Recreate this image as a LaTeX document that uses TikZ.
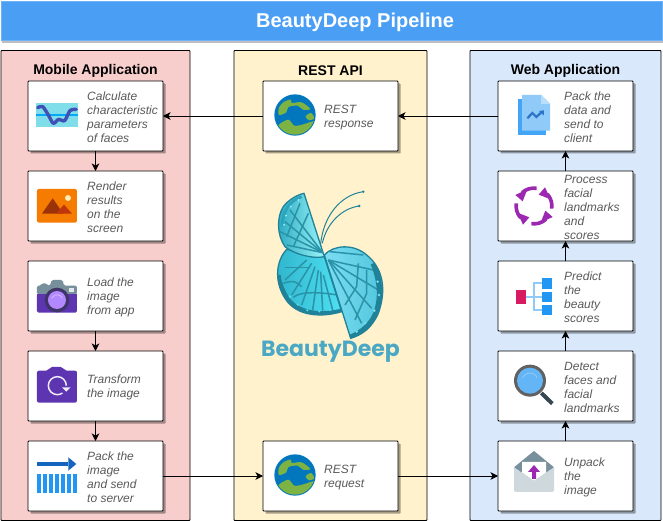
\documentclass[tikz,border=0pt]{standalone}
\usepackage{fontspec}
\setmainfont{Liberation Sans}
\newfontfamily\logofont{Poppins}
\usetikzlibrary{positioning,shadows,arrows.meta}
\definecolor{panelred}{HTML}{F8CECC}
\definecolor{panelyellow}{HTML}{FFF2CC}
\definecolor{panelblue}{HTML}{DAE8FC}
\definecolor{titleblue}{HTML}{4A9FF5}
\definecolor{textgray}{HTML}{5A5A5A}
\definecolor{wingdark}{HTML}{1F8299}
\definecolor{wingvein}{HTML}{2A93A8}
\definecolor{wingteal}{HTML}{2FB4CC}
\definecolor{wingcyan}{HTML}{4FE0F2}
\definecolor{wingsky}{HTML}{7CDDF2}
\definecolor{winglight}{HTML}{9BF5F8}
\definecolor{logoblue}{HTML}{4BA8C4}
\definecolor{globeblue}{HTML}{0277BD}
\definecolor{globegreen}{HTML}{7CB342}
\definecolor{chartbg}{HTML}{80DEEA}
\definecolor{chartline}{HTML}{03A9F4}
\definecolor{wave}{HTML}{3F51B5}
\definecolor{orangeicon}{HTML}{F57C00}
\definecolor{mountdark}{HTML}{9C3208}
\definecolor{mountlight}{HTML}{BF360C}
\definecolor{sunicon}{HTML}{FFECB3}
\definecolor{camgray}{HTML}{78909C}
\definecolor{campurple}{HTML}{5E35B1}
\definecolor{camdark}{HTML}{3F3467}
\definecolor{camlens}{HTML}{B388FF}
\definecolor{arrowblue}{HTML}{1565C0}
\definecolor{barblue}{HTML}{2196F3}
\definecolor{docdark}{HTML}{42A5F5}
\definecolor{docmid}{HTML}{90CAF9}
\definecolor{doclight}{HTML}{BBDEFB}
\definecolor{cyclepurple}{HTML}{9C27B0}
\definecolor{pinkicon}{HTML}{D81B60}
\definecolor{handledark}{HTML}{37474F}
\definecolor{lensgray}{HTML}{616161}
\definecolor{lensblue}{HTML}{64B5F6}
\definecolor{envlight}{HTML}{CFD8DC}
\tikzset{
  panelbox/.style={draw=black, line width=.8pt, rounded corners=.7pt, inner sep=0pt, outer sep=0pt},
  paneltitle/.style={font=\bfseries\fontsize{14}{16}\selectfont, inner sep=0pt},
  stepbox/.style={draw=black, line width=.8pt, fill=white, rounded corners=.7pt, minimum width=135pt, minimum height=70pt,
    inner sep=0pt, outer sep=0pt, general shadow={fill=black, opacity=.35, shadow xshift=2.5pt, shadow yshift=-2.5pt}},
  steptext/.style={font=\itshape\fontsize{12}{14}\selectfont, text=textgray, align=left, anchor=west, inner sep=0pt, yshift=-1.7pt},
  flow/.style={-{Stealth[length=7.5pt,width=7.5pt,inset=2pt]}, line width=.8pt},
  zoomed/.style={shift={#1}, x=.3333pt, y=-.3333pt},
  vein/.style={draw=wingvein, line width=1.5pt},
  globe/.pic={
    \begin{scope}[x=.3333pt, y=-.3333pt]
      \fill[globeblue] (0,0) circle[radius=62];
      \begin{scope}
        \clip (0,0) circle[radius=59];
        \fill[globegreen] plot[smooth cycle] coordinates {(-48,-22) (-32,-40) (-12,-46) (-10,-36) (20,-38) (46,-18) (24,-16) (8,-28) (-20,-24) (-26,-8) (-48,0)};
        \fill[globegreen] plot[smooth cycle] coordinates {(-50,32) (-20,14) (-2,32) (25,28) (60,18) (58,38) (20,60) (-26,56)};
        \fill[globegreen] plot[smooth cycle] coordinates {(32,4) (48,-6) (58,10) (42,16)};
      \end{scope}
    \end{scope}
  }
}
\begin{document}
\begin{tikzpicture}[x=1pt, y=-1pt, node distance=20pt]
\useasboundingbox (0,0) rectangle (663,521);
% header and the three columns
\node[draw=titleblue!80!white, line width=.5pt, fill=titleblue, minimum width=661pt, minimum height=39pt,
  inner sep=0pt, general shadow={fill=black, opacity=.25, shadow xshift=1pt, shadow yshift=-3pt}] (header) at (331.5,20.5) {};
\node[text=white, font=\bfseries\fontsize{20}{22}\selectfont, inner sep=0pt] (headertext) at (355,22) {BeautyDeep Pipeline};
\node[panelbox, fill=panelred, minimum width=189pt, minimum height=470pt] (mobile) at (95.5,285.5) {};
\node[panelbox, fill=panelyellow, minimum width=193pt, minimum height=470pt] (rest) at (330.5,285.5) {};
\node[panelbox, fill=panelblue, minimum width=191pt, minimum height=470pt] (web) at (565.5,285.5) {};
\node[paneltitle] (mobiletitle) at (95.5,70.5) {Mobile Application};
\node[paneltitle] (resttitle) at (330.5,70.5) {REST API};
\node[paneltitle] (webtitle) at (565.5,70.5) {Web Application};
% mobile column
\node[stepbox] (m1) at (95.5,116) {};
\node[stepbox, below=of m1] (m2) {};
\node[stepbox, below=of m2] (m3) {};
\node[stepbox, below=of m3] (m4) {};
\node[stepbox, below=of m4] (m5) {};
\node[steptext] (m1text) at ([xshift=59pt]m1.west) {Calculate\\characteristic\\parameters\\of faces};
\node[steptext] (m2text) at ([xshift=59pt]m2.west) {Render\\results\\on the\\screen};
\node[steptext] (m3text) at ([xshift=59pt]m3.west) {Load the\\image\\from app};
\node[steptext] (m4text) at ([xshift=59pt]m4.west) {Transform\\the image};
\node[steptext] (m5text) at ([xshift=59pt]m5.west) {Pack the\\image\\and send\\to server};
% rest column
\node[stepbox] (r1) at (330.5,116) {};
\node[stepbox] (r2) at (330.5,476) {};
\node[steptext] (r1text) at ([xshift=61pt]r1.west) {REST\\response};
\node[steptext] (r2text) at ([xshift=61pt]r2.west) {REST\\request};
% web column
\node[stepbox] (w1) at (565.5,116) {};
\node[stepbox, below=of w1] (w2) {};
\node[stepbox, below=of w2] (w3) {};
\node[stepbox, below=of w3] (w4) {};
\node[stepbox, below=of w4] (w5) {};
\node[steptext] (w1text) at ([xshift=66pt]w1.west) {Pack the\\data and\\send to\\client};
\node[steptext] (w2text) at ([xshift=66pt]w2.west) {Process\\facial\\landmarks\\and\\scores};
\node[steptext] (w3text) at ([xshift=66pt]w3.west) {Predict\\the\\beauty\\scores};
\node[steptext] (w4text) at ([xshift=66pt]w4.west) {Detect\\faces and\\facial\\landmarks};
\node[steptext] (w5text) at ([xshift=66pt]w5.west) {Unpack\\the\\image};
% connectors
\draw[flow] (w1) -- (r1);
\draw[flow] (r1) -- (m1);
\draw[flow] (m1) -- (m2);
\draw[flow] (m3) -- (m4);
\draw[flow] (m4) -- (m5);
\draw[flow] (m5) -- (r2);
\draw[flow] (r2) -- (w5);
\draw[flow] (w5) -- (w4);
\draw[flow] (w4) -- (w3);
\draw[flow] (w3) -- (w2);
\draw[flow] (w2) -- (w1);
% mobile icons
\begin{scope}[zoomed={(0,0)}]
  \fill[chartbg] (108,309) rectangle (234,381);
  \fill[chartline] (108,341) rectangle (234,347);
  \draw[line width=3.4pt, color=wave, line cap=round, line join=round] plot[smooth] coordinates {(113,323) (128,320) (145,345) (160,370) (176,358) (194,362) (210,332) (229,328)};
  \fill[rounded corners=2pt, color=orangeicon] (111,567) rectangle (231,668);
  \fill[color=mountdark] (126,641) -- (158,595) -- (190,641) -- cycle;
  \fill[color=mountlight] (168,641) -- (192,614) -- (216,641) -- cycle;
  \fill[color=sunicon] (204,594) circle[radius=9];
\end{scope}
\begin{scope}[zoomed={(0,255)}]
  \fill[color=camgray, rounded corners=1.5pt] (111,118) -- (111,92) -- (123,92) -- (125,85) -- (140,85) -- (143,92) -- (150,92) -- (155,75) -- (188,75) -- (192,92) -- (231,92) -- (231,118) -- cycle;
  \fill[color=campurple, rounded corners=1.5pt] (111,118) rectangle (231,173);
  \fill[color=campurple] (111,118) rectangle (231,130);
  \fill[color=camdark] (171,135) circle[radius=37];
  \fill[color=camlens] (171,135) circle[radius=27];
  \draw[color=white!50!camlens, line width=.7pt] (155,130) arc[start angle=-160, end angle=-20, radius=17];
  \fill[color=white!80!camgray] (206,98) rectangle (222,110);
  \fill[color=campurple, rounded corners=2pt] (111,443) -- (111,347) -- (145,347) -- (150,336) -- (188,336) -- (194,347) -- (231,347) -- (231,443) -- cycle;
  \draw[color=white!90!campurple, line width=1.5pt] (199,392) arc[start angle=0, end angle=-305, radius=27];
  \fill[color=white!90!campurple] (186,397) -- (212,397) -- (199,410) -- cycle;
  \fill[color=arrowblue] (111,621) rectangle (205,633);
  \fill[color=arrowblue] (205,607) -- (229,627) -- (205,647) -- cycle;
  \foreach \i in {0,...,6} {
    \fill[color=barblue] (111+18*\i,657) rectangle (123+18*\i,714);
  }
\end{scope}
% rest icons
\pic at (295,115) {globe};
\pic at (295,475) {globe};
% web icons
\begin{scope}[zoomed={(465,45)}]
  \fill[color=docdark] (159,163) rectangle (243,269);
  \fill[color=docmid] (171,150) -- (228,150) -- (255,177) -- (255,257) -- (171,257) -- cycle;
  \fill[color=doclight] (228,150) -- (255,177) -- (228,177) -- cycle;
  \draw[color=arrowblue!90!white, line width=2.2pt] (187,220) -- (202,204) -- (214,216) -- (230,201);
  \fill[color=arrowblue!90!white] (237,196) -- (236,212) -- (222,198) -- cycle;
  \foreach \a in {0,90,180,270} {
    \begin{scope}[shift={(207,483)}, rotate=\a]
      \draw[color=cyclepurple, line width=3.6pt] (53,8) arc[start angle=9, end angle=-42, radius=53];
      \fill[color=cyclepurple] (33,-56) -- (14,-34) -- (50,-20) -- cycle;
    \end{scope}
  }
\end{scope}
\begin{scope}[zoomed={(465,280)}]
  \draw[color=docmid, line width=1.7pt] (183,50) -- (231,50);
  \draw[color=docmid, line width=1.7pt] (231,90) -- (208,90) -- (208,9) -- (231,9);
  \fill[color=pinkicon] (153,30) rectangle (183,72);
  \fill[color=barblue] (231,-6) rectangle (261,27);
  \fill[color=barblue] (231,36) rectangle (261,65);
  \fill[color=barblue] (231,75) rectangle (261,105);
  % magnifier
  \draw[color=handledark, line width=4pt] (229,339) -- (262,371);
  \fill[color=lensgray] (195,302) circle[radius=48];
  \fill[color=lensblue] (195,302) circle[radius=39];
  \draw[color=docmid, line width=.8pt] (173,293) arc[start angle=-155, end angle=-25, radius=24];
  % envelope
  \fill[color=envlight, rounded corners=2pt] (207,560) -- (147,562) -- (147,636) -- (267,636) -- (267,562) -- cycle;
  \fill[color=camgray] (207,513) -- (267,562) -- (207,603) -- (147,562) -- cycle;
  \fill[color=white] (171,546) -- (243,546) -- (243,578) -- (207,603) -- (171,578) -- cycle;
  \fill[color=envlight] (147,562) -- (207,603) -- (267,562) -- (267,570) -- (207,610) -- (147,570) -- cycle;
  \fill[color=cyclepurple] (207,555) -- (225,576) -- (213,576) -- (213,597) -- (201,597) -- (201,576) -- (189,576) -- cycle;
\end{scope}
% logo
\begin{scope}[zoomed={(230,180)}]
  \draw[color=wingdark, line width=1pt] (272,192) .. controls (280,110) and (330,45) .. (400,35);
  \draw[color=wingdark, line width=1pt] (277,190) .. controls (290,130) and (335,85) .. (388,78);
  \fill[color=wingdark] (400,35) circle[radius=4];
  \fill[color=wingdark] (388,78) circle[radius=4];
  % lower left wing
  \path[left color=wingteal, right color=wingcyan, draw=wingdark, line width=1.3pt] (283,230) -- (335,395) .. controls (280,412) and (200,412) .. (165,355) .. controls (130,300) and (140,240) .. (170,208) -- cycle;
  \begin{scope}
    \clip (283,230) -- (335,395) .. controls (280,412) and (200,412) .. (165,355) .. controls (130,300) and (140,240) .. (170,208) -- cycle;
    \foreach \sx/\sy/\ex/\ey in {230/240/165/300,245/250/185/345,255/260/215/375,265/270/248/390,272/275/278/392,280/285/308/390} {
      \draw[vein] (\sx,\sy) -- (\ex,\ey);
    }
    \draw[vein] (165,262) -- (240,262);
    \draw[vein] (160,310) .. controls (190,300) and (200,305) .. (215,320);
    \draw[vein] (190,352) .. controls (210,335) and (260,335) .. (322,345);
    \draw[color=wingdark, line width=4pt] (335,392) .. controls (280,405) and (205,405) .. (170,352) .. controls (158,330) and (148,310) .. (146,285);
    \foreach \dx/\dy in {232/391,268/394,300/390,203/374,180/350} {
      \fill[wingcyan] (\dx,\dy) circle[radius=3.5];
    }
  \end{scope}
  % right wing
  \path[left color=wingsky, right color=wingteal!60!wingsky, draw=wingdark, line width=1.3pt] (283,225) .. controls (310,195) and (370,190) .. (410,225) .. controls (460,265) and (470,330) .. (445,400) .. controls (425,445) and (395,465) .. (362,475) -- cycle;
  \begin{scope}
    \clip (283,225) .. controls (310,195) and (370,190) .. (410,225) .. controls (460,265) and (470,330) .. (445,400) .. controls (425,445) and (395,465) .. (362,475) -- cycle;
    \foreach \ex/\ey in {430/270,445/330,425/385,395/430} {
      \draw[vein] (295,240) -- (\ex,\ey);
    }
    \draw[vein] (300,215) -- (400,225);
    \draw[vein] (385,250) -- (380,320) -- (345,375);
    \draw[vein] (410,270) -- (410,340) -- (375,420);
    \draw[color=wingdark, line width=5.5pt] (362,472) .. controls (395,458) and (425,435) .. (440,395) .. controls (455,350) and (450,300) .. (430,250);
    \foreach \dx/\dy in {405/430,433/392,447/345,443/305,380/455} {
      \fill[wingsky] (\dx,\dy) circle[radius=4];
    }
  \end{scope}
  % upper left wing
  \path[left color=wingteal!80!wingdark, right color=winglight, draw=wingdark, line width=1.3pt] (222,40) -- (283,230) .. controls (250,238) and (190,222) .. (165,200) .. controls (140,165) and (140,110) .. (160,80) .. controls (175,60) and (200,45) .. cycle;
  \begin{scope}
    \clip (222,40) -- (283,230) .. controls (250,238) and (190,222) .. (165,200) .. controls (140,165) and (140,110) .. (160,80) .. controls (175,60) and (200,45) .. cycle;
    \foreach \ex/\ey in {180/90,165/125,150/155,170/195} {
      \draw[vein] (278,218) -- (\ex,\ey);
    }
    \draw[vein] (210,70) -- (170,170);
    \draw[vein] (235,100) -- (190,200);
    \draw[color=wingteal!70!wingdark, line width=3pt] (215,50) .. controls (180,62) and (158,90) .. (156,140);
    \foreach \dx/\dy in {168/107,182/80,205/60,162/135} {
      \fill[winglight] (\dx,\dy) circle[radius=3];
    }
  \end{scope}
\end{scope}
\node[text=logoblue, font=\logofont\bfseries\fontsize{22}{24}\selectfont, inner sep=0pt] (logotext) at (330.5,351.5) {BeautyDeep};
\end{tikzpicture}
\end{document}
